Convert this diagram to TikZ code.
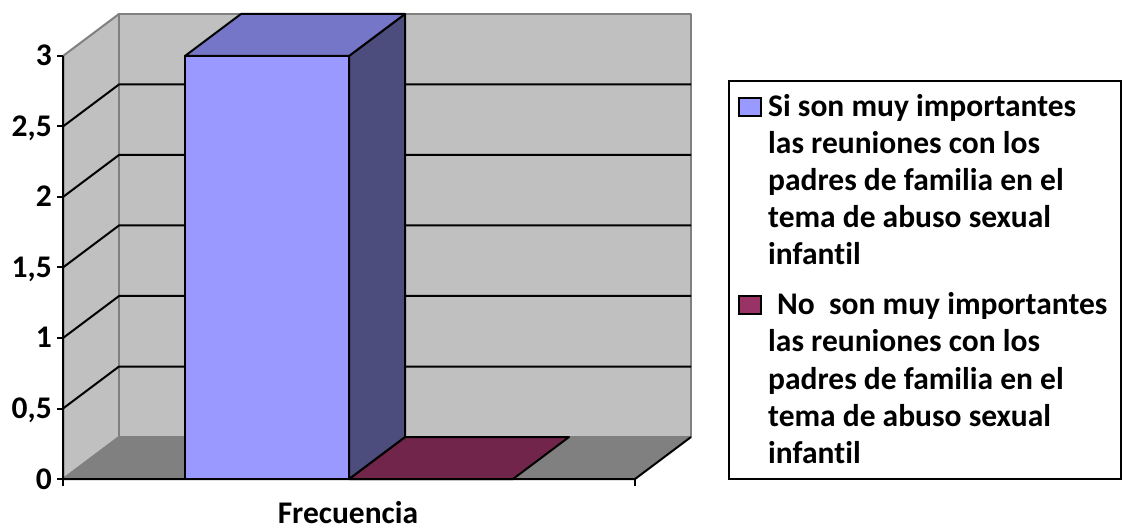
\documentclass[tikz,border=0pt]{standalone}
\usepackage{fontspec}
\setmainfont[Ligatures=NoCommon]{Carlito}
\begin{document}
\begin{tikzpicture}[x=1pt,y=-1pt,
  wall/.style={fill=wallgray, draw=edgegray, line width=2pt, line join=round},
  grid/.style={draw=black, line width=2pt},
  axisline/.style={draw=black, line width=2pt},
  barface/.style={draw=black, line width=2pt, line join=round},
  lbl/.style={font=\fontsize{31.5}{36}\selectfont\bfseries, inner sep=0pt},
  ytick/.style={lbl, anchor=base east},
  legtext/.style={lbl, anchor=base west},
  legmark/.style={draw=black, line width=1.5pt}]
\definecolor{wallgray}{HTML}{C0C0C0}
\definecolor{edgegray}{HTML}{808080}
\definecolor{floorgray}{HTML}{808080}
\definecolor{barfront}{HTML}{9999FF}
\definecolor{bartop}{HTML}{7676C8}
\definecolor{barside}{HTML}{4C4C7D}
\definecolor{zerobar}{HTML}{72254A}
\definecolor{legtwo}{HTML}{993366}
\useasboundingbox (0,0) rectangle (1122,529);
\fill[white] (0,0) rectangle (1122,529);
% walls
\path[wall] (63,56) -- (119,14) -- (119,437) -- (63,479) -- cycle;
\path[wall] (119,14) rectangle (691,437);
% floor
\path[fill=floorgray] (63,479) -- (119,437) -- (691,437) -- (635,479) -- cycle;
\draw[draw=edgegray, line width=1.5pt] (63,479) -- (119,437) -- (691,437);
% gridlines
\foreach \v in {0.5,1,1.5,2,2.5}{
  \pgfmathsetmacro{\yy}{479-141*\v}
  \draw[grid] (63,\yy) -- (119,\yy-42) -- (691,\yy-42);
}
% axes
\coordinate (o) at (63,479);
\coordinate (ytop) at (63,56);
\coordinate (xend) at (635,479);
\coordinate (fback) at (691,437);
\draw[axisline] (ytop) -- (o) -- (xend) -- (fback);
\foreach \v/\t in {0/0,0.5/{0,5},1/1,1.5/{1,5},2/2,2.5/{2,5},3/3}{
  \pgfmathsetmacro{\yy}{479-141*\v}
  \draw[axisline] (57,\yy) -- (63,\yy);
  \node[ytick] at (52,\yy+10) {\t};
}
\draw[axisline] (63,479) -- (63,486);
\draw[axisline] (635,479) -- (635,486);
% zero bar
\path[barface, fill=zerobar] (349,479) -- (513,479) -- (569,437) -- (405,437) -- cycle;
% main bar
\path[barface, fill=barside] (349,56) -- (405,14) -- (405,437) -- (349,479) -- cycle;
\path[barface, fill=bartop] (185,56) -- (241,14) -- (405,14) -- (349,56) -- cycle;
\path[barface, fill=barfront] (185,56) rectangle (349,479);
% category label
\node[lbl, anchor=base] (cat) at (348,523) {Frecuencia};
% legend
\draw[fill=white, draw=black, line width=2pt] (729,81) rectangle (1121,479);
\draw[legmark, fill=barfront] (739,98) rectangle (761,116);
\draw[legmark, fill=legtwo] (739,296) rectangle (761,314);
\node[legtext] (a1) at (768,117) {Si son muy importantes};
\node[legtext] (a2) at (768,154) {las reuniones con los};
\node[legtext] (a3) at (768,191) {padres de familia en el};
\node[legtext] (a4) at (768,228) {tema de abuso sexual};
\node[legtext] (a5) at (768,265) {infantil};
\node[legtext] (b1) at (777,315) {No\ \ son muy importantes};
\node[legtext] (b2) at (768,352) {las reuniones con los};
\node[legtext] (b3) at (768,389) {padres de familia en el};
\node[legtext] (b4) at (768,426) {tema de abuso sexual};
\node[legtext] (b5) at (768,463) {infantil};
\end{tikzpicture}
\end{document}
